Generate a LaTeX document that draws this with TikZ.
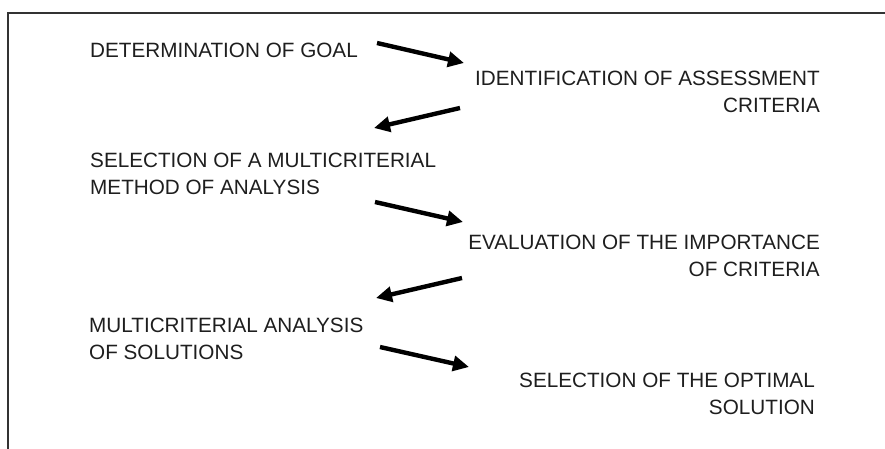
\documentclass[tikz,border=0pt]{standalone}
\usepackage{fontspec}
\setmainfont{Liberation Sans}
\usetikzlibrary{arrows.meta}
\definecolor{txt}{HTML}{1E1E1E}
\definecolor{frame}{HTML}{333333}
\tikzset{
  lbl/.style={inner sep=0pt, text=txt, font=\fontsize{20.7}{27}\selectfont},
  lleft/.style={lbl, anchor=north west, align=left},
  lright/.style={lbl, anchor=north east, align=right},
  flow/.style={line width=4.4pt, draw=black, -{Triangle[length=16pt,width=15pt]}},
  framel/.style={line width=1.8pt, draw=frame}
}
\begin{document}
\begin{tikzpicture}[x=1pt,y=-1pt]
\useasboundingbox (0,0) rectangle (885,449);
\coordinate (ftl) at (8,13);
\coordinate (ftr) at (885,13);
\coordinate (fbl) at (8,449);
\draw[framel] (fbl) -- (ftl) -- (ftr);

\node[lleft]  (goal) at (90,43)  {DETERMINATION OF GOAL};
\node[lright] (crit) at (820,71) {IDENTIFICATION OF ASSESSMENT\\CRITERIA};
\node[lleft]  (meth) at (90,153) {SELECTION OF A MULTICRITERIAL\\METHOD OF ANALYSIS};
\node[lright] (eval) at (820,235) {EVALUATION OF THE IMPORTANCE\\OF CRITERIA};
\node[lleft]  (anal) at (89,318) {MULTICRITERIAL ANALYSIS\\OF SOLUTIONS};
\node[lright] (opt)  at (815,373) {SELECTION OF THE OPTIMAL\\SOLUTION};

\coordinate (a1s) at (377,43);  \coordinate (a1e) at (464,63);
\coordinate (a2s) at (460,108); \coordinate (a2e) at (374,128);
\coordinate (a3s) at (375,202); \coordinate (a3e) at (463,222);
\coordinate (a4s) at (462,278); \coordinate (a4e) at (376,298);
\coordinate (a5s) at (380,347); \coordinate (a5e) at (469,367);

\draw[flow] (a1s) -- (a1e);
\draw[flow] (a2s) -- (a2e);
\draw[flow] (a3s) -- (a3e);
\draw[flow] (a4s) -- (a4e);
\draw[flow] (a5s) -- (a5e);
\end{tikzpicture}
\end{document}
